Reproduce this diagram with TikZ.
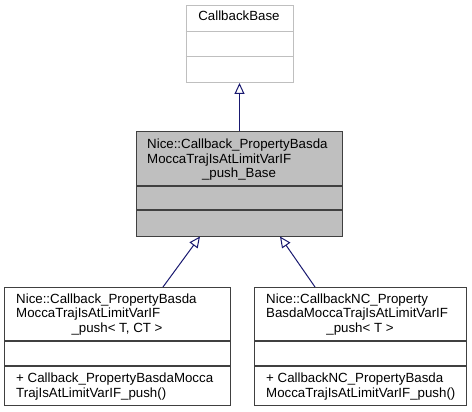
\documentclass[tikz,border=0pt]{standalone}
\usepackage{fontspec}
\setmainfont{Liberation Sans}
\usetikzlibrary{arrows.meta}
\definecolor{edgeblue}{HTML}{191970}
\definecolor{gfill}{HTML}{BFBFBF}
\definecolor{gline}{HTML}{BFBFBF}
\definecolor{dline}{HTML}{404040}
\begin{document}
\begin{tikzpicture}[x=1pt,y=-1pt,
  box/.style={draw,line width=1pt,inner sep=0pt,anchor=north west},
  lbl/.style={inner sep=0pt,font=\fontsize{13.3}{15}\selectfont},
  inh/.style={draw=edgeblue,line width=1pt,-{Triangle[open,length=11pt,width=10pt,fill=white]}}]
\useasboundingbox (0,0) rectangle (472,412);
\fill[white] (0,0) rectangle (472,412);

% top box
\node[box,draw=gline,minimum width=107pt,minimum height=77pt] (base) at (185.5,5) {};
\draw[gline,line width=1pt] (185.5,32) -- (292.5,32) (185.5,57) -- (292.5,57);
\node[lbl,anchor=base] (baset) at (239,21) {CallbackBase};

% middle box
\node[box,draw=dline,fill=gfill,minimum width=206pt,minimum height=105pt] (mid) at (136,131) {};
\draw[dline,line width=1.3pt] (136,186) -- (342,186) (136,210) -- (342,210);
\node[lbl,anchor=base west] (m1) at (147,149) {Nice::Callback\_PropertyBasda};
\node[lbl,anchor=base west] (m2) at (147,163.5) {MoccaTrajIsAtLimitVarIF};
\node[lbl,anchor=base] (m3) at (239,178) {\_push\_Base};

% left box
\node[box,draw=dline,minimum width=226pt,minimum height=118pt] (left) at (4,287) {};
\draw[dline,line width=1.3pt] (4,341) -- (230,341) (4,366) -- (230,366);
\node[lbl,anchor=base west] (l1) at (16,303) {Nice::Callback\_PropertyBasda};
\node[lbl,anchor=base west] (l2) at (16,317.5) {MoccaTrajIsAtLimitVarIF};
\node[lbl,anchor=base] (l3) at (117,332) {\_push< T, CT >};
\node[lbl,anchor=base west] (l4) at (16,382) {+ Callback\_PropertyBasdaMocca};
\node[lbl,anchor=base west] (l5) at (16,397) {TrajIsAtLimitVarIF\_push()};

% right box
\node[box,draw=dline,minimum width=212pt,minimum height=118pt] (right) at (254,287) {};
\draw[dline,line width=1.3pt] (254,341) -- (466,341) (254,366) -- (466,366);
\node[lbl,anchor=base west] (r1) at (266,303) {Nice::CallbackNC\_Property};
\node[lbl,anchor=base west] (r2) at (266,317.5) {BasdaMoccaTrajIsAtLimitVarIF};
\node[lbl,anchor=base] (r3) at (360,332) {\_push< T >};
\node[lbl,anchor=base west] (r4) at (266,382) {+ CallbackNC\_PropertyBasda};
\node[lbl,anchor=base west] (r5) at (266,397) {MoccaTrajIsAtLimitVarIF\_push()};

% connectors
\coordinate (lstart) at (163,287);
\coordinate (lend) at (200,236.5);
\coordinate (rstart) at (315,287);
\coordinate (rend) at (280,236.5);
\draw[inh] (mid.north) -- (base.south);
\draw[inh] (lstart) -- (lend);
\draw[inh] (rstart) -- (rend);
\end{tikzpicture}
\end{document}
